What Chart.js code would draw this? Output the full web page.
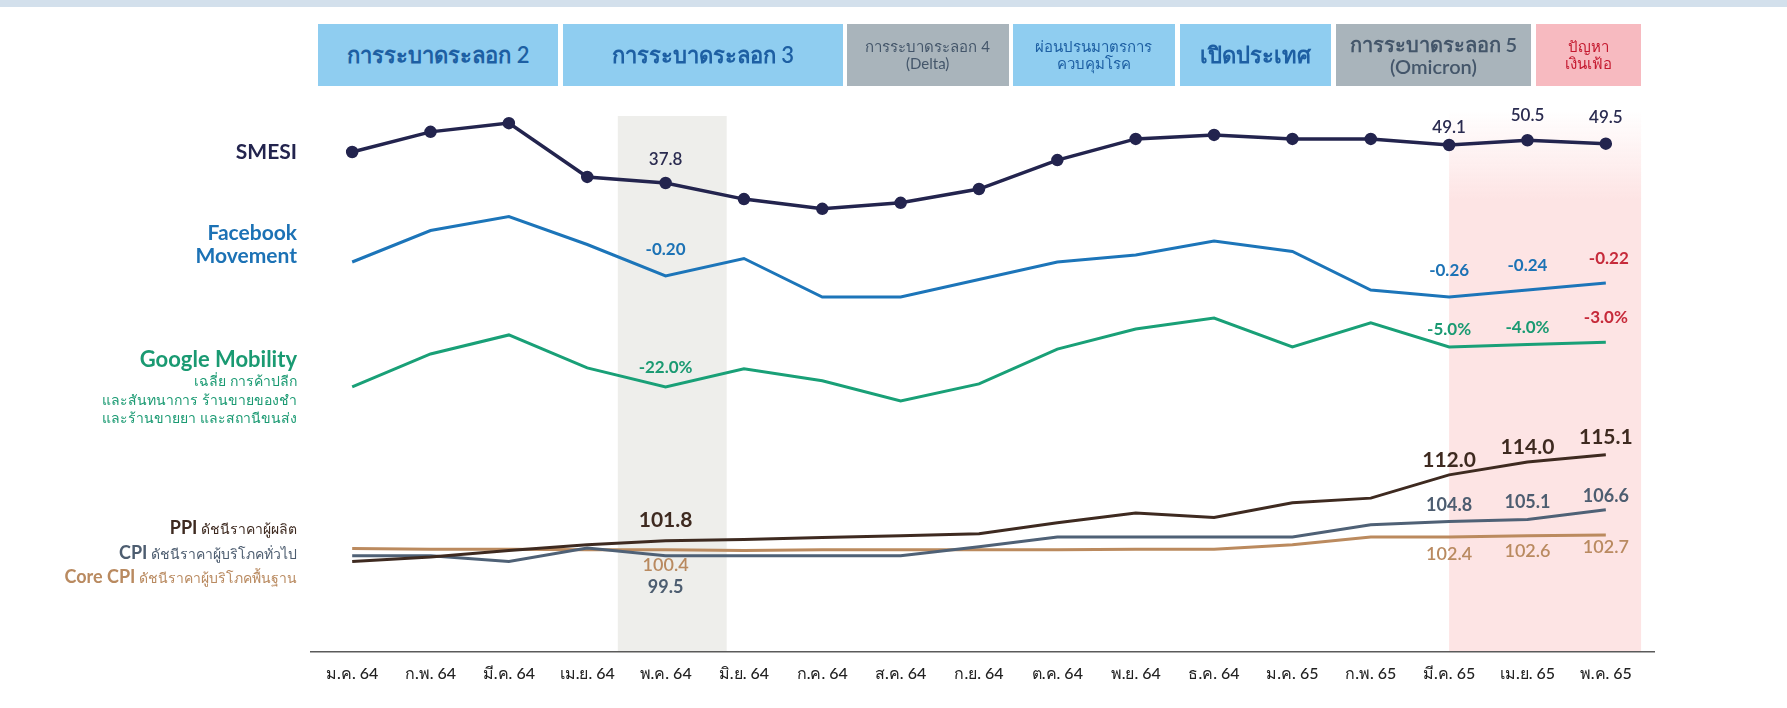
<!DOCTYPE html>
<html lang="th">
<head>
<meta charset="utf-8">
<script src="https://cdn.jsdelivr.net/npm/chart.js@4.4.1/dist/chart.umd.min.js"></script>
<style>
  html,body{margin:0;padding:0;background:#fff;}
  body{width:1787px;height:708px;position:relative;overflow:hidden;font-family:Lato,"Noto Sans",sans-serif;}
  #topbar{position:absolute;left:0;top:0;width:1787px;height:7px;background:#d3e0ec;}
  canvas{position:absolute;left:0;top:0;}
  .phase{position:absolute;top:24px;height:62px;display:flex;flex-direction:column;align-items:center;justify-content:center;text-align:center;line-height:1.12;box-sizing:border-box;}
  .blue{background:#8fcdf0;color:#1d5fa3;}
  .gray{background:#a9b4bb;color:#44566a;}
  .pink{background:#f7bac0;color:#c4182e;}
  .name{position:absolute;right:1490px;text-align:right;white-space:nowrap;}
  .big{font-weight:700;}
</style>
</head>
<body>
<div id="topbar"></div>
<canvas id="chart" width="1787" height="708"></canvas>
<div id="phases"></div>

<div class="name big" style="top:138px;font-size:21px;color:#23244e;">SMESI</div>
<div class="name big" style="top:220px;font-size:21px;line-height:23px;color:#1c72b5;">Facebook<br>Movement</div>
<div class="name" style="top:346px;color:#1a9a72;">
  <div class="big" style="font-size:22px;line-height:26px;">Google Mobility</div>
  <div style="font-size:14px;line-height:18.5px;">เฉลี่ย การค้าปลีก<br>และสันทนาการ ร้านขายของชำ<br>และร้านขายยา และสถานีขนส่ง</div>
</div>
<div class="name" style="top:516px;font-size:14px;line-height:23.5px;">
  <div style="color:#3e2a20;"><span class="big" style="font-size:18px;">PPI</span> ดัชนีราคาผู้ผลิต</div>
  <div style="color:#4d5d70;"><span class="big" style="font-size:18px;">CPI</span> ดัชนีราคาผู้บริโภคทั่วไป</div>
  <div style="color:#b98a60;"><span class="big" style="font-size:18px;">Core CPI</span> ดัชนีราคาผู้บริโภคพื้นฐาน</div>
</div>

<script>
const MONTHS = ["ม.ค. 64","ก.พ. 64","มี.ค. 64","เม.ย. 64","พ.ค. 64","มิ.ย. 64","ก.ค. 64","ส.ค. 64","ก.ย. 64","ต.ค. 64","พ.ย. 64","ธ.ค. 64","ม.ค. 65","ก.พ. 65","มี.ค. 65","เม.ย. 65","พ.ค. 65"];
const SMESI   = [47.0,53.0,55.6,39.6,37.8,33.0,30.1,31.9,36.0,44.6,50.9,52.1,50.9,50.9,49.1,50.5,49.5];
const FB_MOVE = [-0.16,-0.07,-0.03,-0.11,-0.20,-0.15,-0.26,-0.26,-0.21,-0.16,-0.14,-0.10,-0.13,-0.24,-0.26,-0.24,-0.22];
const GOOGLE  = [-22.0,-8.0,0.1,-13.9,-22.0,-14.3,-19.4,-28.0,-20.7,-5.9,2.6,7.3,-5.0,5.2,-5.0,-4.0,-3.0];
const PPI     = [98.6,99.3,100.3,101.2,101.8,102.0,102.3,102.6,102.9,104.6,106.1,105.4,107.7,108.4,112.0,114.0,115.1];
const CPI     = [99.5,99.5,98.6,100.7,99.5,99.5,99.5,99.5,100.9,102.4,102.4,102.4,102.4,104.3,104.8,105.1,106.6];
const CORE    = [100.6,100.5,100.5,100.4,100.4,100.3,100.4,100.4,100.4,100.4,100.5,100.5,101.2,102.4,102.4,102.6,102.7];
const LABELED = [4,14,15,16];

// header boxes, spans in month index units
const PHASES = [
  {lines:["การระบาดระลอก 2"], from:-0.43, to:2.63, kind:"blue", size:22},
  {lines:["การระบาดระลอก 3"], from:2.69, to:6.26, kind:"blue", size:22},
  {lines:["การระบาดระลอก 4","(Delta)"], from:6.31, to:8.38, kind:"gray", size:15},
  {lines:["ผ่อนปรนมาตรการ","ควบคุมโรค"], from:8.43, to:10.5, kind:"blue", size:15},
  {lines:["เปิดประเทศ"], from:10.56, to:12.49, kind:"blue", size:22},
  {lines:["การระบาดระลอก 5","(Omicron)"], from:12.55, to:15.05, kind:"gray", size:20},
  {lines:["ปัญหา","เงินเฟ้อ"], from:15.11, to:16.45, kind:"pink", size:15}
];

const RED = "#c62a3a";
const FONT = 'Lato, "Noto Sans", sans-serif';

const shades = {
  id:"shades",
  beforeDatasetsDraw(c){
    const {ctx, chartArea:a, scales:{x}} = c;
    ctx.save();
    let l = x.getPixelForValue(3.39), r = x.getPixelForValue(4.78);
    ctx.fillStyle = "#eeeeeb";
    ctx.fillRect(l, 116, r-l, a.bottom-116);
    l = x.getPixelForValue(14.0); r = x.getPixelForValue(16.45);
    const g = ctx.createLinearGradient(0,110,0,200);
    g.addColorStop(0,"rgba(253,228,228,0)");
    g.addColorStop(1,"rgba(253,228,228,1)");
    ctx.fillStyle = g;
    ctx.fillRect(l, 110, r-l, a.bottom-110);
    // base line, a bit wider than the plot
    ctx.strokeStyle = "#5a5a5a";
    ctx.lineWidth = 1.5;
    ctx.beginPath();
    ctx.moveTo(a.left-3, a.bottom);
    ctx.lineTo(a.right+10, a.bottom);
    ctx.stroke();
    ctx.restore();
  }
};

const valueLabels = {
  id:"valueLabels",
  afterDatasetsDraw(c){
    const ctx = c.ctx;
    ctx.save();
    ctx.textAlign = "center";
    ctx.textBaseline = "middle";
    c.data.datasets.forEach((ds,di)=>{
      const o = ds.valueLabel; if(!o) return;
      const pts = c.getDatasetMeta(di).data;
      LABELED.forEach((idx,k)=>{
        ctx.font = o.font;
        ctx.fillStyle = (o.redLast && idx===16) ? RED : o.color;
        ctx.fillText(o.fmt(ds.data[idx]), pts[idx].x + (o.dx ? o.dx[k] : 0), pts[idx].y + o.dy[k]);
      });
    });
    ctx.restore();
  }
};

const hidden = (min,max)=>({display:false, min, max});

const chart = new Chart(document.getElementById("chart"),{
  type:"line",
  data:{
    labels:MONTHS,
    datasets:[
      {label:"SMESI", data:SMESI, yAxisID:"ySme", borderColor:"#23244e", backgroundColor:"#23244e",
       borderWidth:3.5, pointRadius:4.5, pointBackgroundColor:"#23244e",
       valueLabel:{fmt:v=>v.toFixed(1), font:"600 17px "+FONT, color:"#2a2b50", dy:[-23,-17,-25,-26]}},
      {label:"Facebook Movement", data:FB_MOVE, yAxisID:"yFb", borderColor:"#1c75b9",
       borderWidth:3, pointRadius:0,
       valueLabel:{fmt:v=>v.toFixed(2), font:"700 17px "+FONT, color:"#1c72b5", dy:[-26,-26,-24,-24], dx:[0,0,0,3], redLast:true}},
      {label:"Google Mobility", data:GOOGLE, yAxisID:"yGm", borderColor:"#19a077",
       borderWidth:3, pointRadius:0,
       valueLabel:{fmt:v=>v.toFixed(1)+"%", font:"700 17px "+FONT, color:"#1a9a72", dy:[-19,-17,-17,-25], redLast:true}},
      {label:"PPI", data:PPI, yAxisID:"yPrice", borderColor:"#3e2a20",
       borderWidth:3, pointRadius:0,
       valueLabel:{fmt:v=>v.toFixed(1), font:"700 21px "+FONT, color:"#3e2a20", dy:[-21,-15,-15,-18]}},
      {label:"CPI", data:CPI, yAxisID:"yPrice", borderColor:"#4f6176",
       borderWidth:3, pointRadius:0,
       valueLabel:{fmt:v=>v.toFixed(1), font:"700 18px "+FONT, color:"#4d5d70", dy:[31,-16,-17,-14]}},
      {label:"Core CPI", data:CORE, yAxisID:"yPrice", borderColor:"#bb8a5e",
       borderWidth:3, pointRadius:0,
       valueLabel:{fmt:v=>v.toFixed(1), font:"600 18px "+FONT, color:"#b98a60", dy:[15,17,16,12]}}
    ]
  },
  options:{
    responsive:false,
    animation:false,
    layout:{padding:{left:313, right:142, top:100, bottom:13}},
    elements:{line:{tension:0}},
    plugins:{legend:{display:false}, tooltip:{enabled:false}},
    scales:{
      x:{offset:true,
         grid:{display:false, drawTicks:false},
         border:{display:false},
         ticks:{padding:12, color:"#222", font:{size:16, weight:"500", family:FONT}}},
      ySme:hidden(-101.66, 62.48),
      yFb:hidden(-1.274, 0.303),
      yGm:hidden(-134.6, 99.97),
      yPrice:hidden(84.64, 169.96)
    }
  },
  plugins:[shades, valueLabels]
});

// header boxes placed on the x scale
const xs = chart.scales.x, box = document.getElementById("phases");
PHASES.forEach(p=>{
  const d = document.createElement("div");
  const l = xs.getPixelForValue(p.from), r = xs.getPixelForValue(p.to);
  d.className = "phase " + p.kind;
  d.style.left = l + "px";
  d.style.width = (r-l) + "px";
  d.style.fontSize = p.size + "px";
  d.style.fontWeight = p.size > 18 ? "600" : "400";
  d.innerHTML = p.lines.map(s=>"<div>"+s+"</div>").join("");
  box.appendChild(d);
});
</script>
</body>
</html>
